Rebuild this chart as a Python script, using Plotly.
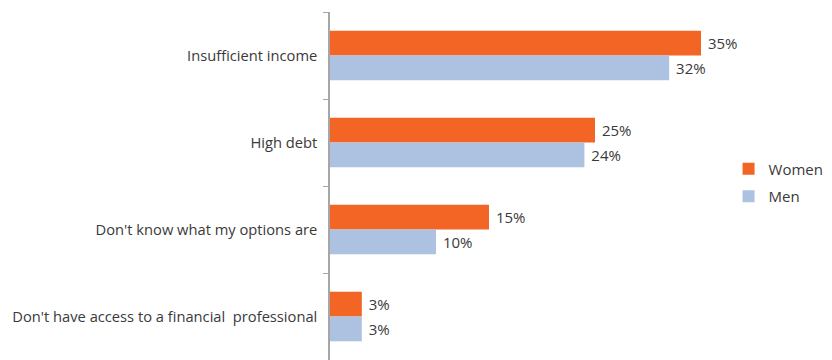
import plotly.graph_objects as go

categories = [
    "Insufficient income",
    "High debt",
    "Don't know what my options are",
    "Don't have access to a financial\u00a0 professional",
]
women = [35, 25, 15, 3]
men = [32, 24, 10, 3]

ORANGE = "#F26524"
BLUE = "#ADC1E0"
TEXT = "#3A3A3A"
FONT = "Open Sans"

fig = go.Figure()
for name, vals, color, grp in [("Women", women, ORANGE, "w"), ("Men", men, BLUE, "m")]:
    fig.add_trace(go.Bar(
        y=categories,
        x=vals,
        name=name,
        orientation="h",
        marker=dict(color=color, line=dict(width=0)),
        text=[f"\u00a0{v}%" for v in vals],
        textposition="outside",
        textfont=dict(family=FONT, size=15, color=TEXT),
        cliponaxis=False,
        legendgroup=grp,
    ))

fig.update_layout(
    width=832,
    height=360,
    margin=dict(l=330, r=78, t=12, b=0, autoexpand=False),
    paper_bgcolor="white",
    plot_bgcolor="white",
    barmode="group",
    bargap=0.43,
    bargroupgap=0,
    font=dict(family=FONT, size=14.7, color=TEXT),
    showlegend=True,
    legend=dict(
        x=0.94, xanchor="left",
        y=0.51, yanchor="middle",
        traceorder="grouped",
        tracegroupgap=5,
        font=dict(family=FONT, size=15, color=TEXT),
        bgcolor="rgba(0,0,0,0)",
        itemwidth=30,
    ),
    xaxis=dict(range=[0, 40], visible=False, showgrid=False, zeroline=False),
    yaxis=dict(
        autorange="reversed",
        showline=True,
        linecolor="#A6A6A6",
        linewidth=1.5,
        ticks="outside",
        tickson="boundaries",
        ticklen=5,
        tickcolor="#A6A6A6",
        tickwidth=1,
        ticklabelstandoff=8,
        showgrid=False,
        tickfont=dict(family=FONT, size=14.7, color=TEXT),
    ),
)

fig.write_html("out.html")
